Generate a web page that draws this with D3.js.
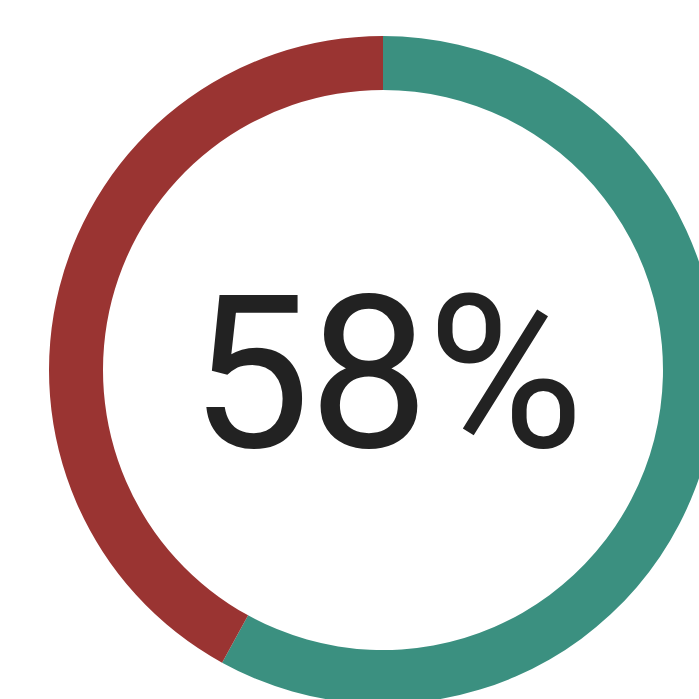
<!DOCTYPE html>
<html>
<head>
<meta charset="utf-8">
<script src="https://cdn.jsdelivr.net/npm/d3@7"></script>
<style>
html,body{margin:0;padding:0;background:#fff;overflow:hidden;}
</style>
</head>
<body>
<svg id="chart" width="699" height="699"></svg>
<script>
const categories = ["Yes", "No"];
const values = [58, 42];
const colors = ["#3b9080", "#9a3432"];
const centerLabel = "58%";

const svg = d3.select("#chart");
const cx = 383, cy = 370, outerR = 334, innerR = 280;
const g = svg.append("g").attr("transform", `translate(${cx},${cy})`);

const pie = d3.pie().sort(null).value(d => d)(values);
const arc = d3.arc().innerRadius(innerR).outerRadius(outerR);

g.selectAll("path").data(pie).join("path")
  .attr("d", arc)
  .attr("fill", (d, i) => colors[i]);

g.append("text")
  .attr("x", 3)
  .attr("y", 77)
  .attr("text-anchor", "middle")
  .attr("font-family", "Roboto, sans-serif")
  .attr("font-size", 214)
  .attr("letter-spacing", -2)
  .attr("fill", "#222")
  .text(centerLabel);
</script>
</body>
</html>
